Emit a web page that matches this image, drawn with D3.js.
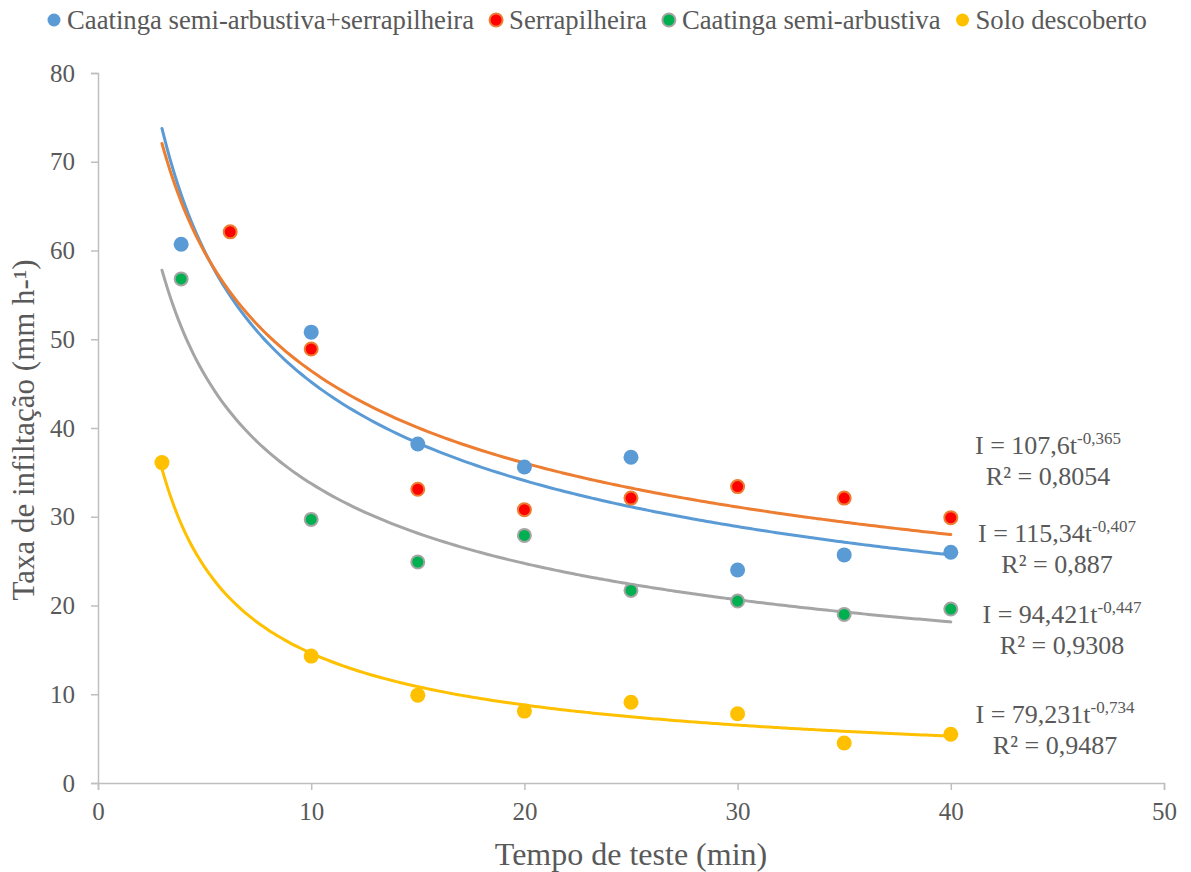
<!DOCTYPE html>
<html>
<head>
<meta charset="utf-8">
<script src="https://cdn.jsdelivr.net/npm/d3@7"></script>
<style>
  body { margin: 0; background: #fff; }
  text { font-family: "Liberation Serif", "Times New Roman", serif; fill: #595959; }
</style>
</head>
<body>
<div id="chart"></div>
<script>
// Series names (legend order)
const seriesNames = ["Caatinga semi-arbustiva+serrapilheira", "Serrapilheira", "Caatinga semi-arbustiva", "Solo descoberto"];

// Observed points: time (min) and infiltration rate (mm h-1)
const timeCaatSerr = [3.9, 10, 15, 20, 25, 30, 35, 40];
const rateCaatSerr = [60.7, 50.8, 38.2, 35.6, 36.7, 24.0, 25.7, 26.0];

const timeSerr = [6.2, 10, 15, 20, 25, 30, 35, 40];
const rateSerr = [62.1, 48.9, 33.1, 30.8, 32.1, 33.4, 32.1, 29.9];

const timeCaat = [3.9, 10, 15, 20, 25, 30, 35, 40];
const rateCaat = [56.8, 29.7, 24.9, 27.9, 21.7, 20.5, 19.0, 19.6];

const timeSolo = [3, 10, 15, 20, 25, 30, 35, 40];
const rateSolo = [36.1, 14.3, 9.9, 8.1, 9.1, 7.8, 4.5, 5.5];

// Power trend lines I = a * t^b (from the equations shown)
const trendA = [115.34, 107.6, 94.421, 79.231];
const trendB = [-0.407, -0.365, -0.447, -0.734];
const trendLabels = ["115,34", "107,6", "94,421", "79,231"];
const trendExp = ["-0,407", "-0,365", "-0,447", "-0,734"];
const r2Labels = ["0,887", "0,8054", "0,9308", "0,9487"];

const xTicks = [0, 10, 20, 30, 40, 50];
const yTicks = [0, 10, 20, 30, 40, 50, 60, 70, 80];

const width = 1191;
const height = 872;
const marginLeft = 98;
const marginRight = 27;
const marginTop = 73;
const marginBottom = 89;
const serif = "Liberation Serif, Times New Roman, serif";

const colors = ["#5b9bd5", "#ed7d31", "#a5a5a5", "#ffc000"];
const markerFill = ["#5b9bd5", "#ff0000", "#00b050", "#ffc000"];
const markerStroke = ["#5b9bd5", "#ed7d31", "#a5a5a5", "#ffc000"];

const series = [
  { t: timeCaatSerr, v: rateCaatSerr },
  { t: timeSerr, v: rateSerr },
  { t: timeCaat, v: rateCaat },
  { t: timeSolo, v: rateSolo }
];

const x = d3.scaleLinear().domain([0, 50]).range([marginLeft, width - marginRight]);
const y = d3.scaleLinear().domain([0, 80]).range([height - marginBottom, marginTop]);

const svg = d3.create("svg").attr("width", width).attr("height", height)
  .attr("font-family", serif);

// axes
const xAxis = svg.append("g")
  .attr("transform", `translate(0,${height - marginBottom})`)
  .call(d3.axisBottom(x).tickValues(xTicks).tickSize(7).tickPadding(12));
const yAxis = svg.append("g")
  .attr("transform", `translate(${marginLeft},0)`)
  .call(d3.axisLeft(y).tickValues(yTicks).tickSize(7).tickPadding(16));
[xAxis, yAxis].forEach((g) => {
  g.attr("font-family", serif);
  g.select(".domain").attr("stroke", "#bfbfbf").attr("stroke-width", 1.5);
  g.selectAll(".tick line").attr("stroke", "#bfbfbf").attr("stroke-width", 1.5);
  g.selectAll(".tick text").attr("font-size", 25).attr("fill", "#595959")
    .attr("font-family", serif);
});

// trend lines
const tGrid = d3.range(3, 40.01, 0.25);
const line = d3.line().x((d) => x(d[0])).y((d) => y(d[1])).curve(d3.curveBasis);
trendA.forEach((a, i) => {
  svg.append("path")
    .datum(tGrid.map((t) => [t, a * Math.pow(t, trendB[i])]))
    .attr("fill", "none")
    .attr("stroke", colors[i])
    .attr("stroke-width", 3)
    .attr("stroke-linecap", "round")
    .attr("d", line);
});

// points
series.forEach((s, i) => {
  svg.append("g").selectAll("circle")
    .data(s.t.map((t, j) => [t, s.v[j]]))
    .join("circle")
    .attr("cx", (d) => x(d[0]))
    .attr("cy", (d) => y(d[1]))
    .attr("r", i === 0 || i === 3 ? 7.5 : 6.5)
    .attr("fill", markerFill[i])
    .attr("stroke", markerStroke[i])
    .attr("stroke-width", i === 0 || i === 3 ? 0 : 2);
});

// equation labels
const eqCenters = [1057, 1048, 1062, 1055];
const eqBase = [542, 454, 623, 723];
trendA.forEach((a, i) => {
  const t1 = svg.append("text")
    .attr("x", eqCenters[i]).attr("y", eqBase[i])
    .attr("text-anchor", "middle").attr("font-size", 26).attr("font-family", serif);
  t1.append("tspan").text(`I = ${trendLabels[i]}t`);
  t1.append("tspan").attr("dy", -10).attr("font-size", 17).text(trendExp[i]);
  svg.append("text")
    .attr("x", eqCenters[i]).attr("y", eqBase[i] + 31)
    .attr("text-anchor", "middle").attr("font-size", 26).attr("font-family", serif)
    .text(`R² = ${r2Labels[i]}`);
});

// axis titles
svg.append("text")
  .attr("x", (marginLeft + width - marginRight) / 2).attr("y", 865)
  .attr("text-anchor", "middle").attr("font-size", 32).attr("font-family", serif)
  .text("Tempo de teste (min)");
svg.append("text")
  .attr("transform", `translate(34,${430}) rotate(-90)`)
  .attr("text-anchor", "middle").attr("font-size", 31).attr("font-family", serif)
  .text("Taxa de infiltação (mm h-¹)");

// legend
const legend = svg.append("g");
seriesNames.forEach((name, i) => {
  const item = legend.append("g");
  item.append("circle").attr("cx", 0).attr("cy", 20).attr("r", 6.5)
    .attr("fill", markerFill[i]).attr("stroke", markerStroke[i])
    .attr("stroke-width", i === 1 || i === 2 ? 2 : 0);
  item.append("text").attr("x", 13).attr("y", 29).attr("font-size", 26.7)
    .attr("font-family", serif).text(name);
});

document.getElementById("chart").appendChild(svg.node());

// place legend items using measured text widths
let pos = 54;
legend.selectAll("g").each(function () {
  const g = d3.select(this);
  g.attr("transform", `translate(${pos},0)`);
  const w = g.select("text").node().getComputedTextLength();
  pos += 13 + w + 22;
});
</script>
</body>
</html>
